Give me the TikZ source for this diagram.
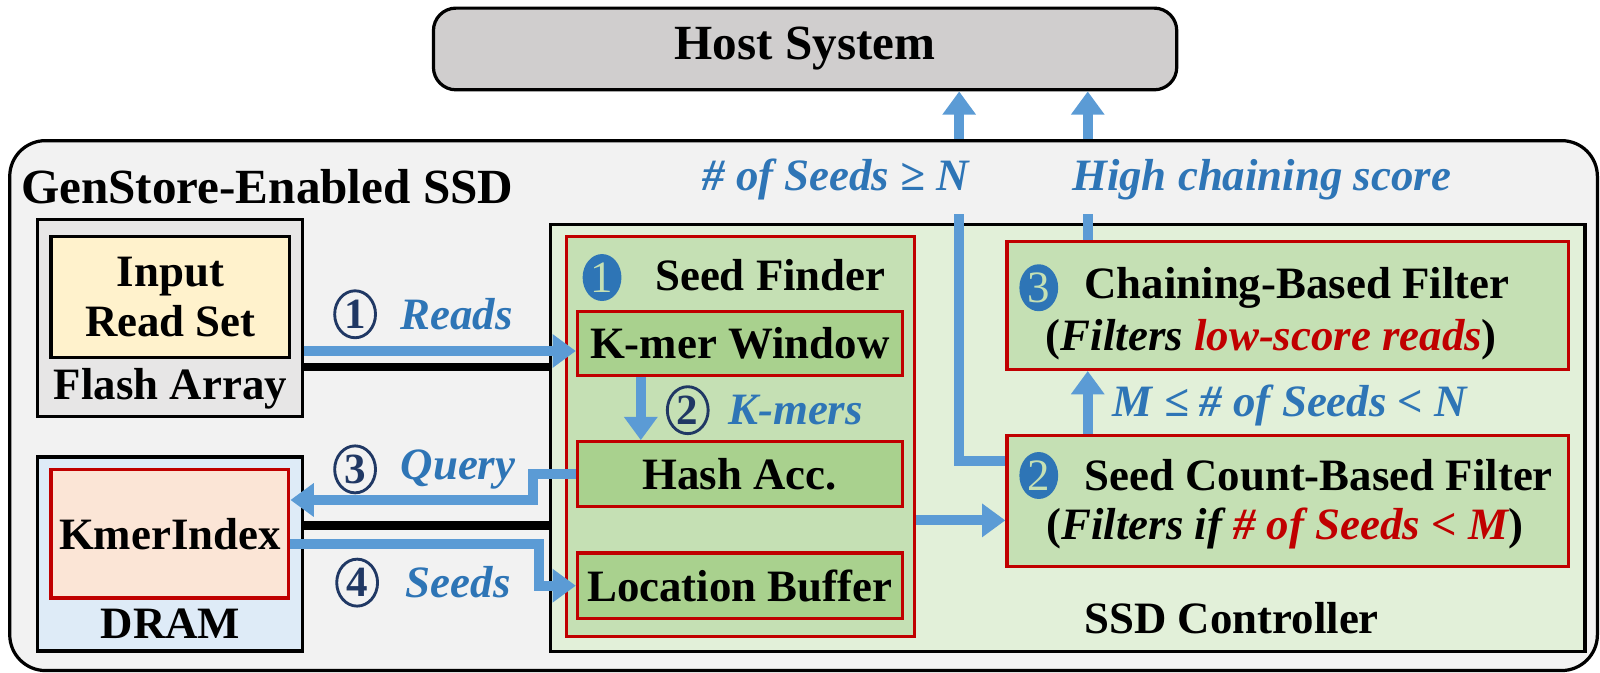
\documentclass[tikz,border=0pt]{standalone}
\usepackage{fontspec}
\setmainfont{Liberation Serif}
\usetikzlibrary{arrows.meta,shapes.geometric}
\definecolor{hostgray}{HTML}{D0CECE}
\definecolor{ssdgray}{HTML}{F2F2F2}
\definecolor{flashgray}{HTML}{E7E6E6}
\definecolor{readyellow}{HTML}{FFF2CC}
\definecolor{dramblue}{HTML}{DEEBF7}
\definecolor{idxpink}{HTML}{FBE5D6}
\definecolor{ctrlgreen}{HTML}{E2F0D9}
\definecolor{findergreen}{HTML}{C5E0B4}
\definecolor{unitgreen}{HTML}{A9D18E}
\definecolor{darkred}{HTML}{C00000}
\definecolor{flowblue}{HTML}{5B9BD5}
\definecolor{lblblue}{HTML}{2E75B6}
\definecolor{navy}{HTML}{203864}
\begin{document}
\begin{tikzpicture}[x=0.01cm,y=-0.01cm,
  txt/.style={font=\bfseries\fontsize{12.5}{14}\selectfont},
  title/.style={font=\bfseries\fontsize{13.7}{16}\selectfont},
  box/.style={draw,line width=0.9pt,inner sep=0pt,txt},
  redbox/.style={draw=darkred,line width=0.9pt,inner sep=0pt,txt},
  flow/.style={draw=flowblue,line width=2.8pt,-{Triangle[width=9pt,length=6.5pt]}},
  flowline/.style={draw=flowblue,line width=2.8pt},
  bus/.style={line width=2.3pt},
  lbl/.style={font=\bfseries\itshape\fontsize{12.5}{14}\selectfont,text=lblblue,anchor=west,inner sep=0pt},
  numring/.style={ellipse,draw=navy,line width=0.8pt,inner sep=0pt,minimum width=0.40cm,minimum height=0.46cm,text=navy,font=\bfseries\fontsize{12}{14}\selectfont},
  numdot/.style={ellipse,fill=lblblue,inner sep=0pt,minimum width=0.38cm,minimum height=0.46cm,text=findergreen,font=\fontsize{12.5}{14}\selectfont}]
\useasboundingbox (0,0) rectangle (1568,659);
\node[box,title,fill=hostgray,rounded corners=0.22cm,minimum width=7.28cm,minimum height=0.80cm] (host) at (789,48) {Host System};
\node[box,fill=ssdgray,rounded corners=0.35cm,minimum width=15.55cm,minimum height=5.19cm] (ssd) at (787.5,397.5) {};
\node[title,anchor=west,inner sep=0pt] (ssdtitle) at (20,183) {GenStore-Enabled SSD};
\node[box,fill=flashgray,minimum width=2.59cm,minimum height=1.93cm] (flash) at (166.5,311.5) {};
\node[box,fill=readyellow,minimum width=2.34cm,minimum height=1.18cm,align=center] (readset) at (167,291) {Input\\Read Set};
\node[txt] (flashlbl) at (167,381) {Flash Array};
\node[box,fill=dramblue,minimum width=2.59cm,minimum height=1.90cm] (dram) at (166.5,543) {};
\node[redbox,fill=idxpink,minimum width=2.33cm,minimum height=1.26cm] (kmeridx) at (166.5,523) {KmerIndex};
\node[txt] (dramlbl) at (167,611) {DRAM};
\node[box,fill=ctrlgreen,minimum width=10.13cm,minimum height=4.18cm] (ctrl) at (1046.5,429) {};
\node[txt] (ctrllbl) at (1207,606) {SSD Controller};
\node[redbox,fill=findergreen,minimum width=3.41cm,minimum height=3.92cm] (finder) at (725.5,428) {};
\node[numdot] (c1) at (590,272) {1};
\node[txt] (finderlbl) at (755,270) {Seed Finder};
\node[redbox,fill=unitgreen,minimum width=3.18cm,minimum height=0.63cm] (kmerwin) at (725,336.5) {K-mer Window};
\node[redbox,fill=unitgreen,minimum width=3.18cm,minimum height=0.63cm] (hash) at (725,464.5) {Hash Acc.};
\node[redbox,fill=unitgreen,minimum width=3.18cm,minimum height=0.64cm] (locbuf) at (725,574) {Location Buffer};
\node[redbox,fill=findergreen,minimum width=5.50cm,minimum height=1.25cm] (cbf) at (1262,299.5) {};
\node[numdot] (c3) at (1018,282) {3};
\node[txt,anchor=west,inner sep=0pt] (cbfname) at (1062,282) {Chaining-Based Filter};
\node[txt] (cbfnote) at (1246,333) {(\textit{Filters \textcolor{darkred}{low-score reads}})};
\node[redbox,fill=findergreen,minimum width=5.50cm,minimum height=1.28cm] (scf) at (1262,491) {};
\node[numdot] (c2) at (1018,466) {2};
\node[txt,anchor=west,inner sep=0pt] (scfname) at (1062,466) {Seed Count-Based Filter};
\node[txt] (scfnote) at (1259,518) {(\textit{Filters if \textcolor{darkred}{\# of Seeds < M}})};
\draw[bus] (flash.east |- 0,360) -- (ctrl.west |- 0,360);
\draw[bus] (dram.east |- 0,515) -- (ctrl.west |- 0,515);
\draw[flow] (flash.east |- 0,344) -- (kmerwin.west |- 0,344);
\node[numring] (s1) at (348,308) {1};
\node[lbl] (readslbl) at (392,308) {Reads};
\draw[flow] (kmerwin.south -| 628,0) -- (hash.north -| 628,0);
\node[numring] (s2) at (674,402) {2};
\node[lbl] (kmerslbl) at (713,402) {K-mers};
\draw[flow] (hash.west) -- (522,464.5) |- (kmeridx.east |- 0,490);
\node[numring] (s3) at (348,460) {3};
\node[lbl] (querylbl) at (392,460) {Query};
\draw[flow] (kmeridx.east |- 0,533) -- (528,533) |- (locbuf.west);
\node[numring] (s4) at (350,571) {4};
\node[lbl] (seedslbl) at (397,571) {Seeds};
\draw[flow] (finder.east |- 0,510) -- (scf.west |- 0,510);
\draw[flow] (scf.north -| 1066,0) -- (cbf.south -| 1066,0);
\node[lbl] (midlbl) at (1090,397) {M ≤ \# of Seeds < N};
\coordinate (gapA) at (940,210);
\coordinate (gapB) at (1066,210);
\draw[flowline] (scf.west |- 0,452) -| (gapA);
\draw[flowline] (cbf.north -| gapB) -- (gapB);
\draw[flow] (ssd.north -| gapA) -- (host.south -| gapA);
\draw[flow] (ssd.north -| gapB) -- (host.south -| gapB);
\node[lbl,anchor=east] (passlbl) at (950,176) {\# of Seeds ≥ N};
\node[lbl] (highlbl) at (1050,176) {High chaining score};
\end{tikzpicture}
\end{document}
